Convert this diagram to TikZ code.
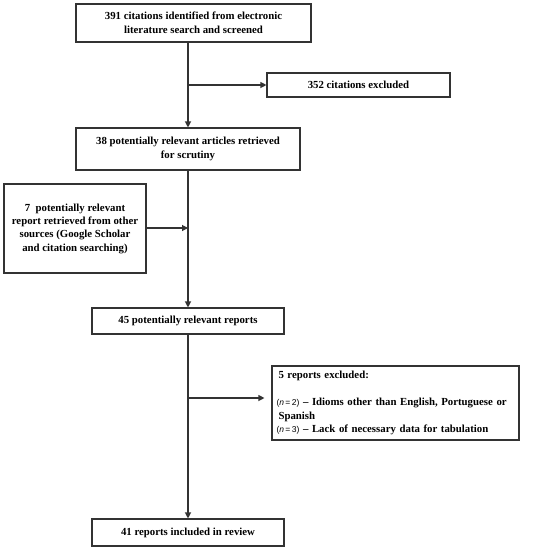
\documentclass[tikz,border=0pt]{standalone}
\usepackage{fontspec}
\setmainfont{Liberation Serif}
\newfontfamily\nfont{Liberation Sans}
\usetikzlibrary{arrows.meta}
\definecolor{ln}{HTML}{333333}
\tikzset{
  box/.style={draw=ln, line width=1.1pt, inner sep=2pt, align=center,
    font=\fontsize{10.8}{13.8}\selectfont\bfseries, text=black},
  conn/.style={draw=ln, line width=1.1pt, -{Triangle[length=6pt,width=6pt]}}
}
\newcommand{\nn}[1]{{\nfont\mdseries\fontsize{8.5}{13.5}\selectfont(\textit{n}\,=\,#1)}}
\begin{document}
\begin{tikzpicture}[x=1pt,y=-1pt]
\useasboundingbox (0,0) rectangle (541,550);
\node[box, minimum width=235pt, minimum height=38pt] (b1) at (193.5,23)
  {391 citations identified from electronic\\literature search and screened};
\node[box, minimum width=183pt, minimum height=24pt] (bx1) at (358.5,85)
  {352 citations excluded};
\node[box, minimum width=224pt, minimum height=42pt] (b2) at (188,149)
  {38 potentially relevant articles retrieved\\for scrutiny};
\node[box, minimum width=142pt, minimum height=89pt, font=\fontsize{10.8}{13.3}\selectfont\bfseries] (bo) at (75,228.5)
  {7\ \ potentially relevant\\report retrieved from other\\sources (Google Scholar\\and citation searching)};
\node[box, minimum width=192pt, minimum height=26pt] (b3) at (188,321)
  {45 potentially relevant reports};
\node[box, minimum width=247pt, minimum height=74pt, align=left, text width=238pt, inner sep=4.5pt, font=\fontsize{10.8}{13.5}\selectfont\bfseries] (bx2) at (395.5,403)
  {\hspace*{2pt}5 reports excluded:\\[13.5pt]
   \nn{2} -- Idioms other than English, Portuguese or\\\hspace*{2pt}Spanish\\
   \nn{3} -- Lack of necessary data for tabulation};
\node[box, minimum width=192pt, minimum height=27pt] (b4) at (188,532.5)
  {41 reports included in review};
\coordinate (j1) at (188,85);
\coordinate (j2) at (188,228);
\coordinate (j3) at (188,398);
\draw[conn] (b1.south -| b2.north) -- (b2.north);
\draw[conn] (j1) -- (j1 -| bx1.west);
\draw[conn] (b2.south) -- (b3.north);
\draw[conn] (bo.east |- j2) -- (j2);
\draw[conn] (b3.south) -- (b4.north);
\draw[conn] (j3) -- ([xshift=-7pt]bx2.west |- j3);
\end{tikzpicture}
\end{document}
